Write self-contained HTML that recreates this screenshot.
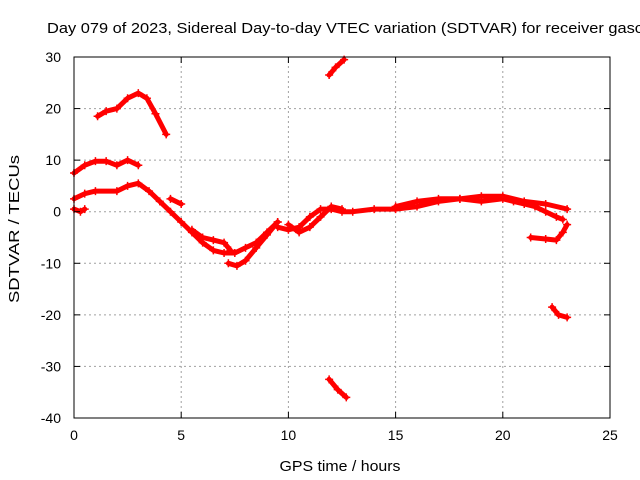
<!DOCTYPE html>
<html><head><meta charset="utf-8"><style>
body{margin:0;background:#fff;overflow:hidden;}
svg{display:block;font-family:"Liberation Sans",sans-serif;}
</style></head><body>
<svg id="chart" width="640" height="480">
<text x="47" y="33" font-size="15" textLength="596" lengthAdjust="spacingAndGlyphs">Day 079 of 2023, Sidereal Day-to-day VTEC variation (SDTVAR) for receiver gasc</text>
<text transform="translate(19,229) rotate(-90)" text-anchor="middle" font-size="15" textLength="148" lengthAdjust="spacingAndGlyphs">SDTVAR / TECUs</text>
<text x="340" y="471" text-anchor="middle" font-size="15" textLength="121" lengthAdjust="spacingAndGlyphs">GPS time / hours</text>
<g id="grid"></g><g id="series"></g><g id="axes"></g>
</svg>
<script>
const xTicks=[0,5,10,15,20,25];
const yTicks=[30,20,10,0,-10,-20,-30,-40];
const sA=[[1.1,18.5],[1.5,19.5],[2,20],[2.5,22],[3,23],[3.4,22],[3.8,19],[4.3,15]];
const sB=[[0,7.5],[0.5,9],[1,9.8],[1.5,9.8],[2,9],[2.5,10],[3,9]];
const sC=[[0,2.5],[0.5,3.5],[1,4],[2,4],[2.5,5],[3,5.5],[3.5,4],[4,2],[4.5,0],[5,-2],[5.5,-4],[6,-6],[6.5,-7.5],[7,-8],[7.5,-8],[8,-7],[8.5,-6],[9,-4],[9.5,-2]];
const sD=[[5.5,-3.5],[6,-5],[6.5,-5.5],[7,-6],[7.3,-7.5]];
const sE=[[7.2,-10],[7.6,-10.5],[8,-9.5],[8.5,-7],[9,-4.5],[9.5,-2]];
const sF=[[9.5,-3],[10,-3.5],[10.5,-3],[11,-1],[11.5,0.5],[12,0.5],[12.5,0],[13,0],[14,0.5],[15,0.5],[16,1],[17,2],[18,2.5],[19,2],[20,2.5],[20.5,2],[21,1.5],[21.5,1],[22,0],[22.5,-1],[22.8,-1.5]];
const sG=[[15,1],[16,2],[17,2.5],[18,2.5],[19,3],[20,3],[21,2],[22,1.5],[23,0.5]];
const sH=[[21.3,-5],[22,-5.3],[22.5,-5.5],[22.8,-4],[23,-2.5]];
const sI=[[11.9,26.5],[12.2,28],[12.6,29.5]];
const sJ=[[11.9,-32.5],[12.3,-34.5],[12.7,-36]];
const sK=[[22.3,-18.5],[22.6,-20],[23,-20.5]];
const sL=[[0,0.5],[0.3,0],[0.5,0.5]];
const sM=[[4.5,2.5],[5,1.5]];
const sN=[[10,-2.5],[10.5,-4],[11,-3],[11.5,-1],[12,1],[12.5,0.5]];
const allSeries=[sA,sB,sC,sD,sE,sF,sG,sH,sI,sJ,sK,sL,sM,sN];
const X0=74,X1=610,Y0=418,Y1=57;
const xs=v=>X0+(v-0)/25*(X1-X0);
const ys=v=>Y0-(v+40)/70*(Y0-Y1);
const NS="http://www.w3.org/2000/svg";
const grid=document.getElementById('grid'),axes=document.getElementById('axes'),ser=document.getElementById('series');
function mk(t,a,p){const e=document.createElementNS(NS,t);for(const k in a)e.setAttribute(k,a[k]);p.appendChild(e);return e;}
xTicks.forEach(t=>{
 if(t>0&&t<25){const g=mk('line',{x1:xs(t),x2:xs(t),y1:Y0,y2:Y1,stroke:'#a0a0a0','stroke-dasharray':'2,3'},grid);
 
 }
 const l=mk('text',{x:xs(t),y:Y0+22,'text-anchor':'middle','font-size':14},axes);l.textContent=t;
 
 
 mk('line',{x1:xs(t),x2:xs(t),y1:Y0,y2:Y0-6,stroke:'#000'},axes);
 mk('line',{x1:xs(t),x2:xs(t),y1:Y1,y2:Y1+6,stroke:'#000'},axes);
});
yTicks.forEach(t=>{
 if(t>-40&&t<30){const g=mk('line',{x1:X0,x2:X1,y1:ys(t),y2:ys(t),stroke:'#a0a0a0','stroke-dasharray':'2,3'},grid);
 
 }
 const l=mk('text',{x:X0-13,y:ys(t)+5,'text-anchor':'end','font-size':14},axes);l.textContent=t;
 
 
 mk('line',{x1:X0,x2:X0+6,y1:ys(t),y2:ys(t),stroke:'#000'},axes);
 mk('line',{x1:X1,x2:X1-6,y1:ys(t),y2:ys(t),stroke:'#000'},axes);
});
const fr=mk('rect',{x:X0,y:Y1,width:X1-X0,height:Y0-Y1,fill:'none',stroke:'#000'},axes);


allSeries.forEach(s=>{
 const d=s.map((p,i)=>(i?'L':'M')+xs(p[0]).toFixed(1)+','+ys(p[1]).toFixed(1)).join('');
 const path=mk('path',{d:d,fill:'none',stroke:'#ff0000','stroke-width':5,'stroke-linecap':'round','stroke-linejoin':'round'},ser);
 
 
 s.forEach(p=>{
  const cx=xs(p[0]),cy=ys(p[1]);
  mk('path',{d:`M${cx-4},${cy}h8M${cx},${cy-4}v8`,stroke:'#ff0000','stroke-width':1.5},ser);
 });
});
</script>
</body></html>
